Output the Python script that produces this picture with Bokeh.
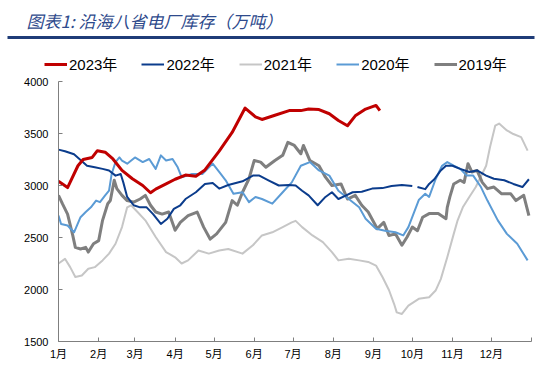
from bokeh.plotting import figure
from bokeh.models import Range1d, FixedTicker, Legend, LegendItem, Label, BoxAnnotation
from bokeh.embed import file_html
from bokeh.resources import INLINE

# ---- data (day of year, stock in 10k tonnes) ----
d2023 = [0, 7, 15, 19, 26, 30, 36, 42, 49, 57, 65, 71, 75, 83, 90, 98, 106, 113, 124, 134,
         144, 152, 157, 167, 178, 187, 193, 201, 209, 216, 223, 229, 237, 245, 248]
v2023 = [3040, 2980, 3190, 3250, 3270, 3335, 3320, 3255, 3145, 3065, 3000, 2930, 2965, 3015,
         3060, 3100, 3090, 3150, 3330, 3510, 3745, 3660, 3635, 3675, 3720, 3720, 3735, 3730,
         3690, 3625, 3575, 3670, 3735, 3770, 3720]

nan = float("nan")
d2022 = [0, 5, 12, 17, 22, 28, 34, 39, 44, 48, 50, 53, 58, 63, 68, 73, 79, 84, 89, 94, 98,
         106, 113, 119, 124, 131, 142, 150, 155, 162, 170, 178, 183, 188, 193, 200, 206, 211,
         216, 222, 227, 234, 242, 250, 257, 265, 273, 275, 277, 283, 286, 290, 295, 299, 304,
         310, 317, 323, 330, 336, 344, 351, 358, 363]
v2022 = [3345, 3330, 3300, 3245, 3190, 3175, 3160, 3145, 3095, 3110, 3030, 2890, 2810, 2790,
         2790, 2725, 2630, 2680, 2775, 2810, 2870, 2935, 3015, 3025, 2970, 3005, 3040, 3095,
         3095, 3050, 3000, 3005, 3000, 2950, 2905, 2810, 2890, 2935, 2870, 2905, 2935, 2940,
         2970, 2975, 2995, 3005, 2995, nan, 2985, 2965, 3015, 3060, 3145, 3190, 3190, 3160,
         3130, 3145, 3095, 3065, 3050, 3015, 2985, 3060]

d2021 = [0, 5, 9, 13, 18, 23, 28, 34, 39, 44, 49, 53, 56, 61, 67, 75, 83, 90, 95, 100, 108,
         116, 124, 131, 142, 150, 157, 165, 173, 180, 183, 188, 196, 204, 211, 216, 224, 232,
         239, 245, 250, 255, 259, 261, 265, 270, 278, 286, 291, 295, 300, 305, 308, 312, 317,
         322, 330, 333, 337, 340, 346, 351, 357, 362]
v2021 = [2250, 2295, 2215, 2120, 2135, 2200, 2215, 2280, 2345, 2440, 2600, 2790, 2810, 2745,
         2665, 2505, 2360, 2310, 2250, 2280, 2375, 2345, 2375, 2390, 2345, 2425, 2520, 2550,
         2600, 2645, 2660, 2600, 2520, 2455, 2360, 2280, 2295, 2280, 2265, 2230, 2120, 1995,
         1860, 1780, 1765, 1845, 1910, 1925, 1990, 2100, 2310, 2535, 2665, 2790, 2890, 2985,
         3190, 3370, 3575, 3595, 3530, 3495, 3465, 3335]

d2020 = [0, 2, 7, 12, 17, 21, 25, 29, 32, 36, 39, 41, 44, 47, 49, 53, 59, 65, 70, 75, 79, 83,
         88, 92, 95, 103, 111, 119, 124, 129, 135, 142, 147, 152, 157, 165, 173, 180, 187, 194,
         201, 209, 216, 224, 232, 237, 245, 252, 260, 266, 270, 274, 278, 283, 286, 291, 296,
         300, 305, 310, 315, 320, 326, 331, 339, 346, 354, 362]
v2020 = [2710, 2630, 2615, 2550, 2695, 2745, 2790, 2855, 2840, 2905, 2950, 3110, 3225, 3270,
         3240, 3210, 3270, 3225, 3255, 3160, 3290, 3240, 3255, 3175, 3080, 3110, 3110, 3210,
         3130, 3050, 2920, 2935, 2840, 2890, 2870, 2825, 2935, 3030, 3190, 3225, 3145, 3095,
         2950, 2870, 2790, 2680, 2585, 2565, 2550, 2520, 2600, 2730, 2860, 2920, 2890, 3060,
         3190, 3225, 3190, 3160, 3095, 3095, 2985, 2855, 2665, 2535, 2440, 2280]

d2019 = [0, 3, 7, 11, 13, 17, 21, 23, 27, 31, 34, 38, 40, 43, 45, 49, 53, 58, 63, 67, 71, 75,
         80, 85, 90, 94, 100, 107, 112, 117, 122, 129, 134, 138, 142, 147, 151, 156, 160, 167,
         173, 177, 182, 187, 189, 194, 201, 206, 211, 218, 223, 229, 234, 239, 246, 251, 255,
         260, 265, 269, 273, 277, 281, 286, 293, 299, 300, 302, 305, 310, 313, 316, 319, 323,
         327, 331, 336, 342, 349, 353, 357, 359, 363]
v2019 = [2905, 2825, 2725, 2520, 2405, 2390, 2405, 2360, 2440, 2470, 2665, 2825, 2855, 3050,
         2970, 2905, 2855, 2840, 2870, 2905, 2810, 2745, 2725, 2745, 2570, 2645, 2710, 2745,
         2600, 2485, 2535, 2645, 2855, 2810, 2935, 3065, 3240, 3225, 3175, 3240, 3290, 3415,
         3385, 3305, 3385, 3240, 3190, 3080, 3000, 3015, 2870, 2905, 2810, 2745, 2585, 2645,
         2520, 2535, 2425, 2505, 2600, 2565, 2695, 2730, 2730, 2680, 2790, 2890, 3015, 3050,
         3030, 3210, 3130, 3145, 3030, 2970, 2985, 2920, 2920, 2855, 2890, 2905, 2710]

month_ticks = [0, 31, 59, 90, 120, 151, 181, 212, 243, 273, 304, 334, 365]
month_labels = ["1月", "2月", "3月", "4月", "5月", "6月", "7月", "8月", "9月", "10月",
                "11月", "12月", ""]
y_ticks = [1500, 2000, 2500, 3000, 3500, 4000]

title_text = "图表1:  沿海八省电厂库存（万吨）"
series = [
    ("2021年", d2021, v2021, "#C6C6C6", 2),
    ("2019年", d2019, v2019, "#7F7F7F", 3),
    ("2020年", d2020, v2020, "#5B9BD5", 2),
    ("2022年", d2022, v2022, "#0B3C8C", 2),
    ("2023年", d2023, v2023, "#C00000", 3),
]
legend_order = ["2023年", "2022年", "2021年", "2020年", "2019年"]

FONT = "Liberation Sans, Noto Sans CJK SC"
W = 555
H1 = 76             # header height

# ---- header figure: title, rule, legend (coordinates = pixels) ----
top = figure(width=W, height=H1, x_range=Range1d(0, W), y_range=Range1d(H1, 0),
             output_backend="svg", toolbar_location=None,
             x_axis_type=None, y_axis_type=None,
             min_border_left=0, min_border_right=0, min_border_top=0, min_border_bottom=0)
top.outline_line_color = None
top.grid.visible = False
top.add_layout(Label(x=26, y=20, text=title_text, text_baseline="middle",
                     text_font="Noto Sans CJK SC", text_font_size="17px",
                     text_font_style="italic", text_color="#2E4A8C"))
top.add_layout(BoxAnnotation(left=7, right=534, top=35.5, bottom=38.5,
                             fill_color="#1F3C78", fill_alpha=1, line_color=None))

dummy = {}
for name, d, v, col, lw in series:
    dummy[name] = top.line(x=[-1000, -990], y=[-1000, -1000], line_color=col, line_width=lw)
items = [LegendItem(label=n, renderers=[dummy[n]]) for n in legend_order]
leg = Legend(items=items, orientation="horizontal", location=(44, 2),
             padding=0, margin=0, spacing=24, glyph_width=23, glyph_height=14,
             label_height=14, label_standoff=2, label_text_font=FONT,
             label_text_font_size="15px", label_text_color="#000000",
             border_line_color=None, background_fill_alpha=0)
top.add_layout(leg)

# ---- main chart ----
p = figure(width=W, height=372 - H1, x_range=Range1d(0, 365), y_range=Range1d(1500, 4000),
           output_backend="svg", toolbar_location=None,
           min_border_left=58, min_border_right=24, min_border_top=81 - H1,
           min_border_bottom=31)
p.outline_line_color = None
p.grid.visible = False
for name, d, v, col, lw in series:
    p.line(x=d, y=v, line_color=col, line_width=lw, line_join="round")

p.xaxis.ticker = FixedTicker(ticks=month_ticks)
p.xaxis.major_label_overrides = {t: l for t, l in zip(month_ticks, month_labels)}
p.yaxis.ticker = FixedTicker(ticks=y_ticks)
for ax in (p.xaxis[0], p.yaxis[0]):
    ax.axis_line_color = "#7F7F7F"
    ax.major_tick_line_color = "#7F7F7F"
    ax.major_tick_in = 4
    ax.major_tick_out = 0
    ax.minor_tick_line_color = None
    ax.major_label_text_font = FONT
    ax.major_label_text_font_size = "11px"
    ax.major_label_text_color = "#000000"
p.xaxis.major_label_standoff = 6
p.yaxis.major_label_standoff = 10

open("out.html", "w").write(file_html([top, p], INLINE))
